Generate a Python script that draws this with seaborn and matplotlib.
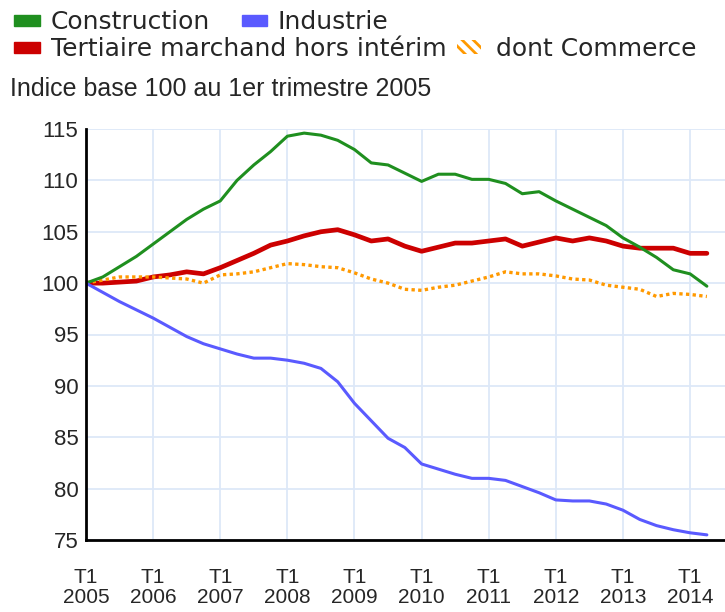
import numpy as np
import pandas as pd
import seaborn as sns
from matplotlib import pyplot as plt
from matplotlib.patches import Patch

# quarterly index, base 100 at T1 2005 (T1 2005 .. T2 2014)
construction = [100.0, 100.6, 101.6, 102.6, 103.8, 105.0, 106.2, 107.2,
                108.0, 110.0, 111.5, 112.8, 114.3, 114.6, 114.4, 113.9,
                113.0, 111.7, 111.5, 110.7, 109.9, 110.6, 110.6, 110.1,
                110.1, 109.7, 108.7, 108.9, 108.0, 107.2, 106.4, 105.6,
                104.4, 103.5, 102.5, 101.3, 100.9, 99.7]
industrie = [100.0, 99.1, 98.2, 97.4, 96.6, 95.7, 94.8, 94.1,
             93.6, 93.1, 92.7, 92.7, 92.5, 92.2, 91.7, 90.4,
             88.3, 86.6, 84.9, 84.0, 82.4, 81.9, 81.4, 81.0,
             81.0, 80.8, 80.2, 79.6, 78.9, 78.8, 78.8, 78.5,
             77.9, 77.0, 76.4, 76.0, 75.7, 75.5]
tertiaire = [100.0, 100.0, 100.1, 100.2, 100.6, 100.8, 101.1, 100.9,
             101.5, 102.2, 102.9, 103.7, 104.1, 104.6, 105.0, 105.2,
             104.7, 104.1, 104.3, 103.6, 103.1, 103.5, 103.9, 103.9,
             104.1, 104.3, 103.6, 104.0, 104.4, 104.1, 104.4, 104.1,
             103.6, 103.4, 103.4, 103.4, 102.9, 102.9]
commerce = [100.0, 100.3, 100.6, 100.6, 100.6, 100.5, 100.4, 100.0,
            100.8, 100.9, 101.1, 101.5, 101.9, 101.8, 101.6, 101.5,
            101.0, 100.4, 100.0, 99.4, 99.3, 99.6, 99.8, 100.2,
            100.6, 101.1, 100.9, 100.9, 100.7, 100.4, 100.3, 99.8,
            99.6, 99.4, 98.7, 99.0, 98.9, 98.7]
years = list(range(2005, 2015))
tick_labels = ["T1\n%d" % y for y in years]

t = 2005 + np.arange(len(construction)) / 4
df = pd.DataFrame({"t": t, "Construction": construction, "Industrie": industrie,
                   "Tertiaire": tertiaire, "Commerce": commerce})

sns.set_style("white")
plt.rcParams['font.family'] = ['Liberation Sans', 'DejaVu Sans']
plt.rcParams['hatch.linewidth'] = 2.0

fig = plt.figure(figsize=(7.25, 6.12), dpi=100)
ax = fig.add_axes([86 / 725, 1 - 540 / 612, 1 - 86 / 725, (540 - 129) / 612])

c_green, c_blue, c_red, c_orange = "#1f8f1f", "#5a5aff", "#cc0000", "#ff9900"

sns.lineplot(data=df, x="t", y="Tertiaire", ax=ax, color=c_red, lw=3.4)
sns.lineplot(data=df, x="t", y="Commerce", ax=ax, color=c_orange, lw=2.4, ls=(0, (1, 1)))
sns.lineplot(data=df, x="t", y="Construction", ax=ax, color=c_green, lw=2.2)
sns.lineplot(data=df, x="t", y="Industrie", ax=ax, color=c_blue, lw=2.2)

ax.set_xlim(2005, 2014.52)
ax.set_ylim(75, 115)
ax.set_xticks(years)
ax.set_xticklabels(tick_labels, fontsize=15, linespacing=1.08)
ax.set_yticks(range(75, 116, 5))
ax.tick_params(length=0)
ax.tick_params(axis='y', labelsize=16, pad=5.5)
ax.tick_params(axis='x', pad=20)
ax.set_xlabel("")
ax.set_ylabel("")
ax.grid(True, color="#dde8f8", lw=1.3)
ax.set_axisbelow(True)
for s in ["top", "right"]:
    ax.spines[s].set_visible(False)
for s in ["left", "bottom"]:
    ax.spines[s].set_color("black")
    ax.spines[s].set_linewidth(2)

# legend entries placed one by one (two rows, not column-aligned)
entries = [
    (Patch(color=c_green, label="Construction"), 14, 22, 1.05, 0.42, 0.3),
    (Patch(color=c_blue, label="Industrie"), 242, 22, 1.0, 0.42, 0.3),
    (Patch(color=c_red, label="Tertiaire marchand hors intérim"), 14, 49, 1.05, 0.42, 0.3),
    (Patch(facecolor="white", edgecolor=c_orange, hatch="\\\\\\", lw=0, label="dont Commerce"),
     457, 49, 0.95, 0.6, 0.45),
]
for h, x0, y0, hl, tp, hh in entries:
    fig.legend(handles=[h], loc="center left", bbox_to_anchor=(x0 / 725, 1 - y0 / 612),
               frameon=False, prop={"family": "DejaVu Sans", "size": 18},
               handlelength=hl, handleheight=hh,
               handletextpad=tp, borderaxespad=0, borderpad=0)

fig.text(10 / 725, 1 - 89 / 612, "Indice base 100 au 1er trimestre 2005",
         fontsize=18, va="center", ha="left")

fig.savefig("out.png", dpi=100)
